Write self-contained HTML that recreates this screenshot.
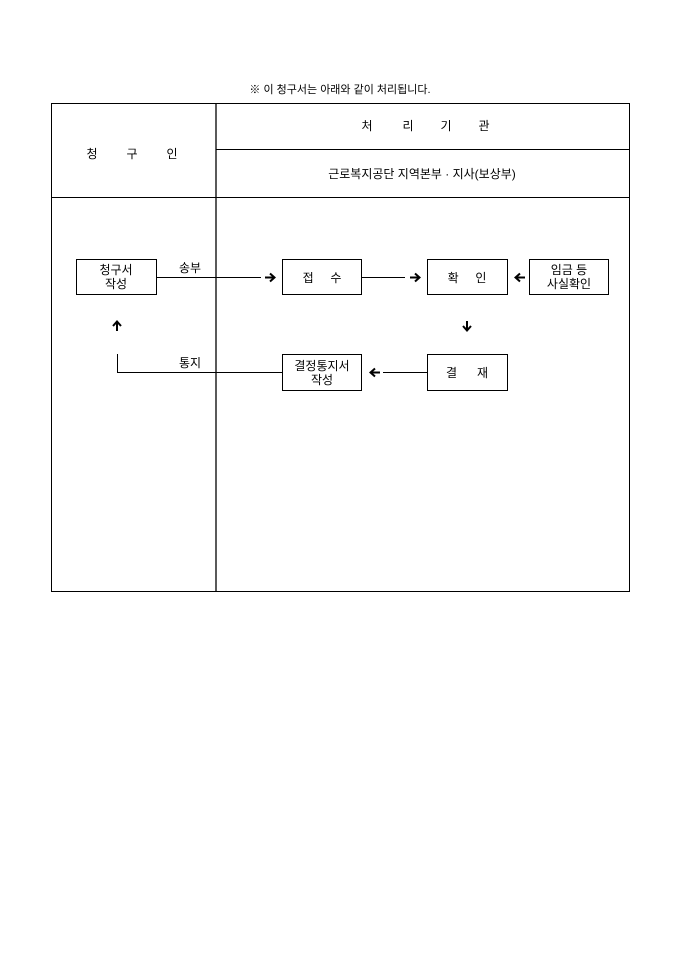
<!DOCTYPE html>
<html><head><meta charset="utf-8"><style>
body{margin:0;background:#fff;}
svg text{font-family:"Liberation Sans","Noto Sans CJK KR",sans-serif;fill:#000;}
</style></head><body>
<svg width="680" height="962" viewBox="0 0 680 962" xmlns="http://www.w3.org/2000/svg">
<defs>
<g id="ar"><path d="M-5,0 H4 M0,-4 L4.5,0 L0,4" stroke="#000" stroke-width="2" fill="none"/></g>
</defs>
<text x="340" y="93" font-size="11" text-anchor="middle">※ 이 청구서는 아래와 같이 처리됩니다.</text>
<g stroke="#000" fill="none">
<rect x="51.5" y="103.5" width="578" height="488" stroke-width="1"/>
<line x1="216" y1="103" x2="216" y2="592" stroke-width="1.3"/>
<line x1="216" y1="149.5" x2="629" y2="149.5"/>
<line x1="51" y1="197.5" x2="629" y2="197.5"/>
<rect x="76.5" y="259.5" width="80" height="35"/>
<rect x="282.5" y="259.5" width="79" height="35"/>
<rect x="427.5" y="259.5" width="80" height="35"/>
<rect x="529.5" y="259.5" width="79" height="35"/>
<rect x="282.5" y="354.5" width="79" height="36"/>
<rect x="427.5" y="354.5" width="80" height="36"/>
<line x1="156" y1="277.5" x2="261" y2="277.5"/>
<line x1="361" y1="277.5" x2="405" y2="277.5"/>
<polyline points="117.5,354 117.5,372.5 282,372.5"/>
<line x1="383" y1="372.5" x2="427" y2="372.5"/>
</g>
<g font-size="12" text-anchor="middle">
<text x="92" y="158">청</text><text x="132" y="158">구</text><text x="172" y="158">인</text>
<text x="367" y="130">처</text><text x="408" y="130">리</text><text x="446" y="130">기</text><text x="484" y="130">관</text>
</g>
<text x="422" y="178" font-size="12" text-anchor="middle">근로복지공단 지역본부 · 지사(보상부)</text>
<g font-size="12" text-anchor="middle">
<text x="116" y="274">청구서</text><text x="116" y="288">작성</text>
<text x="322" y="282" xml:space="preserve">접     수</text>
<text x="467" y="282" xml:space="preserve">확     인</text>
<text x="569" y="274">임금 등</text><text x="569" y="288">사실확인</text>
<text x="322" y="370">결정통지서</text><text x="322" y="384">작성</text>
<text x="467" y="377" xml:space="preserve">결      재</text>
<text x="190" y="272">송부</text>
<text x="190" y="367">통지</text>
</g>
<use href="#ar" transform="translate(270,277.5)"/>
<use href="#ar" transform="translate(415,277.5)"/>
<use href="#ar" transform="translate(520,277.5) rotate(180)"/>
<use href="#ar" transform="translate(467,326) rotate(90)"/>
<use href="#ar" transform="translate(117,326) rotate(-90)"/>
<use href="#ar" transform="translate(375,372.5) rotate(180)"/>
</svg>
</body></html>
